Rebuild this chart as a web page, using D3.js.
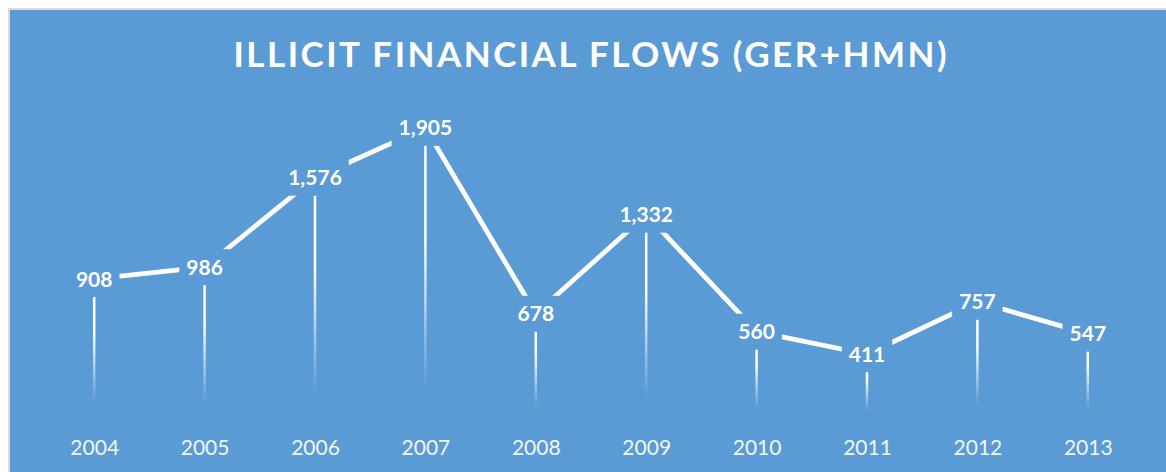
<!DOCTYPE html>
<html>
<head>
<meta charset="utf-8">
<script src="https://cdn.jsdelivr.net/npm/d3@7"></script>
<style>
  html, body { margin: 0; padding: 0; background: #ffffff; }
  svg { display: block; }
</style>
</head>
<body>
<div id="chart"></div>
<script>
// chart data
const years = ["2004", "2005", "2006", "2007", "2008", "2009", "2010", "2011", "2012", "2013"];
const flows = [908, 986, 1576, 1905, 678, 1332, 560, 411, 757, 547];
const titleText = "ILLICIT FINANCIAL FLOWS (GER+HMN)";

const width = 1166;
const height = 472;
const bg = "#5b9bd5";

const svg = d3.select("#chart")
  .append("svg")
  .attr("width", width)
  .attr("height", height);

// outer border + chart area
svg.append("rect")
  .attr("x", 8).attr("y", 8)
  .attr("width", width).attr("height", height)
  .attr("fill", "#d9d9d9");
svg.append("rect")
  .attr("x", 10).attr("y", 10)
  .attr("width", width).attr("height", height)
  .attr("fill", bg);

// fading gradient for the drop lines
const grad = svg.append("defs")
  .append("linearGradient")
  .attr("id", "dropFade")
  .attr("x1", 0).attr("y1", 0)
  .attr("x2", 0).attr("y2", 1);
grad.append("stop").attr("offset", "0%").attr("stop-color", "#fff").attr("stop-opacity", 1);
grad.append("stop").attr("offset", "38%").attr("stop-color", "#fff").attr("stop-opacity", 1);
grad.append("stop").attr("offset", "90%").attr("stop-color", "#fff").attr("stop-opacity", 0);
grad.append("stop").attr("offset", "100%").attr("stop-color", "#fff").attr("stop-opacity", 0);

const x = d3.scalePoint()
  .domain(years)
  .range([39, 1143])
  .padding(0.5);

const y = d3.scaleLinear()
  .domain([0, 2000])
  .range([416.5, 113.5]);

const data = years.map((yr, i) => ({ year: yr, value: flows[i] }));

// title
const title = svg.append("text")
  .attr("x", 590)
  .attr("y", 67)
  .attr("text-anchor", "middle")
  .attr("font-family", "Lato, 'Open Sans', sans-serif")
  .attr("font-weight", "bold")
  .attr("font-size", "35px")
  .attr("fill", "#ffffff")
  .text(titleText);
// stretch the letter spacing so the title spans like the original
const natural = title.node().getComputedTextLength();
const spacing = (713 - natural) / (titleText.length - 1);
title.attr("letter-spacing", spacing + "px")
  .attr("x", 590 + spacing / 2);

// drop lines
svg.append("g")
  .selectAll("rect")
  .data(data)
  .join("rect")
  .attr("x", d => x(d.year) - 1.25)
  .attr("y", d => y(d.value))
  .attr("width", 2.5)
  .attr("height", d => y(0) - y(d.value))
  .attr("fill", "url(#dropFade)");

// the line
const line = d3.line()
  .x(d => x(d.year))
  .y(d => y(d.value));

svg.append("path")
  .datum(data)
  .attr("d", line)
  .attr("fill", "none")
  .attr("stroke", "#ffffff")
  .attr("stroke-width", 4.8)
  .attr("stroke-linejoin", "round");

// data labels with a background box
const fmt = d3.format(",");
const labels = svg.append("g")
  .selectAll("g")
  .data(data)
  .join("g")
  .attr("transform", d => `translate(${x(d.year)},${y(d.value)})`);

labels.append("rect").attr("fill", bg);

labels.append("text")
  .attr("text-anchor", "middle")
  .attr("dy", "0.36em")
  .attr("font-family", "Lato, 'Open Sans', sans-serif")
  .attr("font-weight", "bold")
  .attr("font-size", "21px")
  .attr("fill", "#ffffff")
  .text(d => fmt(d.value))
  .each(function () {
    const w = this.getComputedTextLength();
    d3.select(this.parentNode).select("rect")
      .attr("x", -w / 2 - 7)
      .attr("y", -18)
      .attr("width", w + 14)
      .attr("height", 36);
  });

// x axis labels
const xAxis = d3.axisBottom(x).tickSize(0).tickPadding(0);
const axisG = svg.append("g")
  .attr("transform", "translate(0,440)")
  .call(xAxis);
axisG.select(".domain").remove();
axisG.selectAll("text")
  .attr("dy", "0.71em")
  .attr("y", 0)
  .attr("font-family", "Lato, 'Open Sans', sans-serif")
  .attr("font-size", "21px")
  .attr("fill", "#f4f4f4");
</script>
</body>
</html>
